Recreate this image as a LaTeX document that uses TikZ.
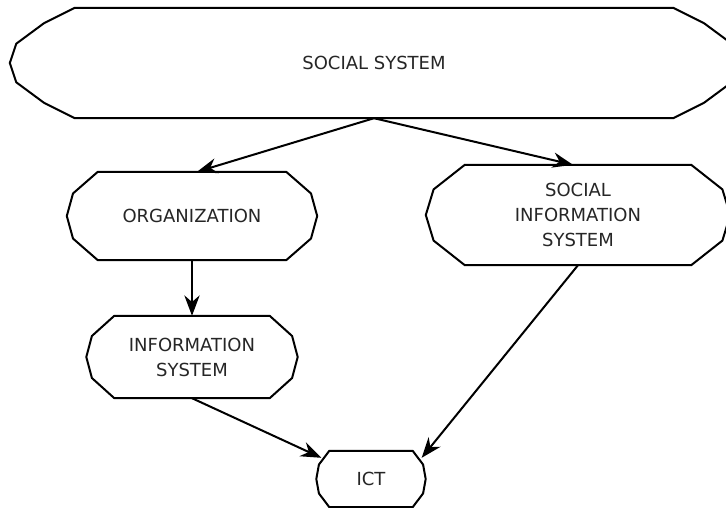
\documentclass[tikz,border=0pt]{standalone}
\usepackage{fontspec}
\setmainfont{DejaVu Sans}
\usetikzlibrary{arrows.meta,calc}
\tikzset{
 box/.style={draw=none, inner sep=0pt, align=center, font=\fontsize{18}{25}\selectfont, text=black!85},
 outl/.style={line width=2pt, line join=round},
 conn/.style={line width=2pt, -{Stealth[scale=1.7]}},
}
% outline with 7-point sides: node name, side width
\newcommand\sevenside[2]{%
 \draw[outl] let \p1=(#1.north west), \p2=(#1.south east), \n1={#2}, \n2={\y1-\y2} in
  (\x1+\n1,\y1) -- (\x2-\n1,\y1) -- (\x2-0.525*\n1,\y1-0.14*\n2) -- (\x2-0.1*\n1,\y1-0.325*\n2)
  -- (\x2,\y1-0.5*\n2) -- (\x2-0.1*\n1,\y1-0.675*\n2) -- (\x2-0.525*\n1,\y1-0.86*\n2)
  -- (\x2-\n1,\y2) -- (\x1+\n1,\y2) -- (\x1+0.525*\n1,\y1-0.86*\n2) -- (\x1+0.1*\n1,\y1-0.675*\n2)
  -- (\x1,\y1-0.5*\n2) -- (\x1+0.1*\n1,\y1-0.325*\n2) -- (\x1+0.525*\n1,\y1-0.14*\n2) -- cycle;}
% outline with 5-point sides: node name, side width
\newcommand\fiveside[2]{%
 \draw[outl] let \p1=(#1.north west), \p2=(#1.south east), \n1={#2}, \n2={\y1-\y2} in
  (\x1+\n1,\y1) -- (\x2-\n1,\y1) -- (\x2-0.2*\n1,\y1-0.245*\n2) -- (\x2,\y1-0.5*\n2)
  -- (\x2-0.2*\n1,\y1-0.755*\n2) -- (\x2-\n1,\y2) -- (\x1+\n1,\y2)
  -- (\x1+0.2*\n1,\y1-0.755*\n2) -- (\x1,\y1-0.5*\n2) -- (\x1+0.2*\n1,\y1-0.245*\n2) -- cycle;}
\begin{document}
\begin{tikzpicture}[x=1pt,y=-1pt]
\useasboundingbox[fill=white] (0,0) rectangle (726,508);
\node[box, minimum width=728pt, minimum height=110pt] (soc) at (374,63) {SOCIAL SYSTEM};
\node[box, minimum width=250pt, minimum height=88pt] (org) at (192,216) {ORGANIZATION};
\node[box, minimum width=304pt, minimum height=100pt] (sis) at (578,215) {SOCIAL\\INFORMATION\\SYSTEM};
\node[box, minimum width=211pt, minimum height=82pt] (is) at (192,357) {INFORMATION\\SYSTEM};
\node[box, minimum width=109pt, minimum height=56pt] (ict) at (371,479) {ICT};
\sevenside{soc}{65}
\fiveside{org}{31}
\fiveside{sis}{39}
\fiveside{is}{28}
\fiveside{ict}{13}
\draw[conn] (soc.south) -- ([xshift=5pt]org.north);
\draw[conn] (soc.south) -- ([xshift=-5pt]sis.north);
\draw[conn] (org.south) -- (is.north);
\draw[conn] (is.south) -- ([shift={(5,7)}]ict.north west);
\draw[conn] (sis.south) -- ([shift={(-4,7)}]ict.north east);
\end{tikzpicture}
\end{document}
